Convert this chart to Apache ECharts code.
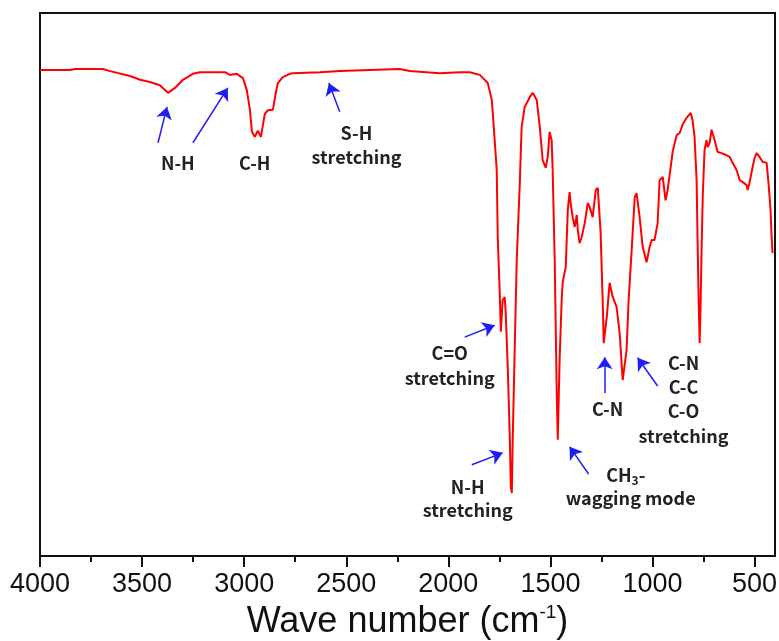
<!DOCTYPE html>
<html>
<head>
<meta charset="utf-8">
<script src="https://cdn.jsdelivr.net/npm/echarts@6/dist/echarts.min.js"></script>
<style>html,body{margin:0;padding:0;background:#fff}#c{width:779px;height:641px}</style>
</head>
<body>
<div id="c"></div>
<script>
// Wavenumber (cm^-1) and transmittance (arbitrary %, axis unlabeled)
const wavenumber = [4000,3853,3829,3692,3657,3559,3510,3462,3413,3373,3339,3300,3251,3217,3094,3070,3036,3006,2987,2972,2962,2948,2933,2918,2899,2884,2859,2845,2835,2811,2776,2762,2629,2531,2385,2238,2189,2042,1944,1895,1846,1807,1787,1773,1763,1758,1748,1743,1734,1724,1719,1709,1699,1694,1689,1685,1675,1665,1650,1641,1626,1601,1587,1567,1552,1538,1523,1513,1504,1494,1489,1479,1474,1469,1464,1455,1445,1440,1435,1425,1415,1406,1401,1391,1381,1371,1366,1357,1347,1332,1317,1308,1293,1278,1268,1264,1254,1249,1244,1239,1234,1224,1210,1195,1176,1161,1146,1127,1117,1102,1087,1078,1063,1048,1029,1014,1004,990,975,965,950,936,926,911,901,882,867,852,833,813,804,794,784,779,774,769,764,759,754,745,735,730,720,711,706,696,681,662,637,622,608,588,573,559,539,534,525,510,500,490,476,461,441,431,422,417,412];
const transmittance = [89.5,89.5,89.7,89.7,89.3,88.4,87.7,87.3,86.7,85.3,86.2,87.7,88.8,89.1,89.1,88.6,88.8,88.0,85.8,82.2,78.1,77.2,78.3,77.2,81.4,82.1,82.2,85.3,87.1,88.2,88.8,88.9,89.1,89.3,89.5,89.7,89.3,88.9,89.1,89.1,88.6,87.1,84.0,76.6,71.1,58.7,48.4,41.3,47.1,47.7,44.8,34.8,21.9,12.7,11.6,20.8,37.9,54.5,68.7,79.0,82.7,84.5,85.3,84.0,79.0,72.9,71.5,73.5,78.1,76.6,71.1,54.5,42.2,30.0,21.4,36.1,47.1,50.3,51.4,53.2,63.7,67.0,65.0,62.4,60.6,62.8,60.0,57.6,58.7,61.3,65.0,64.3,62.4,67.4,67.8,65.5,59.5,53.2,47.1,39.2,40.8,44.0,50.3,47.7,45.9,41.1,32.4,37.9,47.1,56.4,66.1,66.8,62.4,56.9,54.1,56.9,58.2,58.2,61.3,69.2,69.8,65.5,67.4,71.6,74.5,77.5,77.9,79.5,80.7,81.6,80.3,77.2,69.2,57.6,47.1,39.2,47.1,57.6,66.1,74.8,76.6,75.3,76.1,78.5,77.9,76.6,74.4,74.2,73.8,73.5,72.4,71.1,69.2,68.9,68.3,67.4,68.7,71.6,73.3,74.2,73.5,72.6,72.4,68.3,63.9,59.1,55.8];

const majorTicks = [4000,3500,3000,2500,2000,1500,1000,500];
const minorTicks = [3750,3250,2750,2250,1750,1250,750];

// annotation arrows: [fromWavenumber, fromT, toWavenumber, toT]
const arrows = [
  [3422,76.1,3378,82.7],
  [3251,76.1,3080,86.2],
  [2532,81.8,2585,87.1],
  [1920,40.3,1773,42.5],
  [1885,16.8,1734,19.0],
  [1313,15.1,1406,20.1],
  [1234,30.0,1234,36.6],
  [975,31.3,1073,36.5]
];
// annotation text lines: [wavenumber, T, text]
const labels = [
  [3325,72.4,'N-H'],
  [2948,72.4,'C-H'],
  [2450,77.9,'S-H'],
  [2450,73.5,'stretching'],
  [1993,37.4,'C=O'],
  [1993,32.8,'stretching'],
  [1905,12.7,'N-H'],
  [1905,8.5,'stretching'],
  [1131,14.8,'CH{sub|3}-'],
  [1107,10.6,'wagging mode'],
  [1220,27.0,'C-N'],
  [848,35.5,'C-N'],
  [848,31.1,'C-C'],
  [848,26.6,'C-O'],
  [848,22.0,'stretching']
];

const chart = echarts.init(document.getElementById('c'), null, {renderer:'canvas'});
const axisBase = {type:'value', min:400, max:4000, inverse:true, gridIndex:0, position:'bottom', splitLine:{show:false}};
const option = {
  animation:false,
  grid:{left:40, right:4, top:13, bottom:85, show:true, borderColor:'#111', borderWidth:2, containLabel:false, outerBoundsMode:'none'},
  xAxis:[
    Object.assign({}, axisBase, {
      axisLine:{show:true, lineStyle:{color:'#111', width:2}},
      axisTick:{show:true, length:11, lineStyle:{color:'#111', width:2}, customValues:majorTicks},
      axisLabel:{show:true, customValues:majorTicks, margin:15, color:'#111', fontSize:27, formatter:v=>String(v), fontFamily:"'Liberation Sans',Arial,sans-serif"},
      name:'Wave number (cm{sup|-1})', nameLocation:'middle', nameGap:39,
      nameTextStyle:{color:'#111', fontSize:36, fontFamily:"'Liberation Sans',Arial,sans-serif",
        rich:{sup:{fontSize:19, color:'#111', fontFamily:"'Liberation Sans',Arial,sans-serif", padding:[0,0,19,0]}}}
    }),
    Object.assign({}, axisBase, {
      axisLine:{show:false},
      axisTick:{show:true, length:6, lineStyle:{color:'#111', width:2}, customValues:minorTicks},
      axisLabel:{show:false}
    })
  ],
  yAxis:{type:'value', min:0, max:100, axisLine:{show:true, lineStyle:{color:'#111', width:2}}, axisTick:{show:false}, axisLabel:{show:false}, splitLine:{show:false}},
  series:[{
    type:'line', xAxisIndex:0, yAxisIndex:0,
    data: wavenumber.map((w,i)=>[w, transmittance[i]]),
    showSymbol:false, symbol:'none',
    lineStyle:{color:'#ff0000', width:2},
    markLine:{
      silent:true, symbol:['none','arrow'], symbolSize:12,
      lineStyle:{color:'#1f1ff5', width:1.5, type:'solid'},
      itemStyle:{color:'#1f1ff5'},
      label:{show:false},
      data: arrows.map(a=>[{coord:[a[0],a[1]]},{coord:[a[2],a[3]]}])
    },
    markPoint:{
      silent:true, symbol:'circle', symbolSize:1, itemStyle:{color:'rgba(0,0,0,0)'},
      label:{show:true, position:'inside', formatter:'{b}', color:'#222', fontSize:18, fontWeight:'bold', fontFamily:"'Noto Sans CJK KR','Noto Sans',sans-serif",
        rich:{sub:{fontSize:12, color:'#222', fontWeight:'bold', fontFamily:"'Noto Sans CJK KR','Noto Sans',sans-serif", padding:[10,0,0,0]}}},
      data: labels.map(l=>({coord:[l[0],l[1]], name:l[2]}))
    }
  }]
};
chart.setOption(option);
</script>
</body>
</html>
